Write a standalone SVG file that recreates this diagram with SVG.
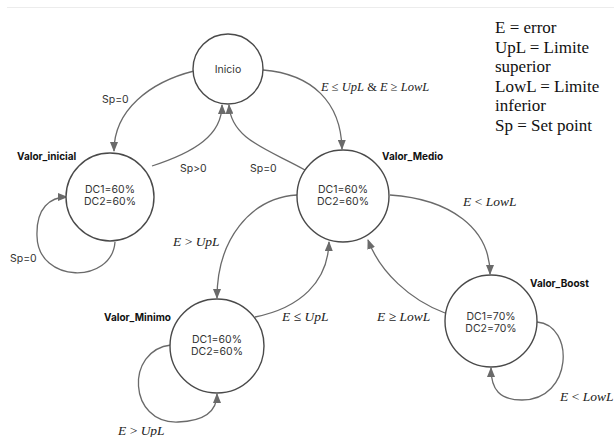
<svg xmlns="http://www.w3.org/2000/svg" width="614" height="437" viewBox="0 0 614 437">
  <style>
    .state { fill: #ffffff; stroke: #4a4a4a; stroke-width: 1.4; }
    .name { font-family: Inter, "Liberation Sans", sans-serif; font-size: 10px; font-weight: 700; fill: #111; }
    .body { font-family: Inter, "Liberation Sans", sans-serif; font-size: 10.5px; fill: #333; text-anchor: middle; }
    .tag { font-family: Inter, "Liberation Sans", sans-serif; font-size: 10.5px; fill: #333; }
    .math { font-family: "Liberation Serif", serif; font-size: 13.5px; font-style: italic; fill: #222; }
    .math.long { font-size: 12.5px; }
    .op { font-style: normal; }
    .legend { font-family: "Liberation Serif", serif; font-size: 17px; fill: #111; }
    .edge { fill: none; stroke: #6a6a6a; stroke-width: 1.3; marker-end: url(#head); }
  </style>
  <defs>
    <marker id="head" markerWidth="10" markerHeight="8" refX="9" refY="4" orient="auto" markerUnits="userSpaceOnUse">
      <path d="M0,0 L10,4 L0,8 Z" fill="#6a6a6a"/>
    </marker>
  </defs>

  <rect width="614" height="437" fill="#ffffff"/>
  <line x1="7" y1="7.5" x2="614" y2="7.5" stroke="#ececec" stroke-width="1"/>

  <!-- transitions -->
  <g id="connectors">
    <path class="edge" d="M194,71 C150,82 114,110 114,151"/>
    <path class="edge" d="M152,166 C195,152 222,135 222,105"/>
    <path class="edge" d="M305,170 C270,150 231,140 229,105"/>
    <path class="edge" d="M263,70 C312,74 341,102 342,149"/>
    <path class="edge" d="M390,195 C450,199 490,228 490,274"/>
    <path class="edge" d="M445,313 C410,300 380,272 368,240"/>
    <path class="edge" d="M297,195 C250,198 217,240 217,298"/>
    <path class="edge" d="M255,317 C300,308 328,282 329,242"/>
    <path class="edge" d="M171,345 C125,350 128,424 178,422 C206,421 217,410 217,394"/>
    <path class="edge" d="M537,322 C575,325 573,400 522,400 C500,400 491,390 491,368"/>
    <path class="edge" d="M115,242 C112,284 38,284 37,236 C36,208 50,197 67,197"/>
  </g>

  <!-- edge labels -->
  <g id="edge-labels">
    <text class="tag" x="102" y="103">Sp=0</text>
    <text class="tag" x="180" y="172">Sp&gt;0</text>
    <text class="tag" x="250" y="172">Sp=0</text>
    <text class="tag" x="10" y="262">Sp=0</text>
    <text class="math long" x="321" y="91">E<tspan class="op"> ≤ </tspan>UpL<tspan class="op"> &amp; </tspan>E<tspan class="op"> ≥ </tspan>LowL</text>
    <text class="math" x="463" y="206">E<tspan class="op"> &lt; </tspan>LowL</text>
    <text class="math" x="173" y="246">E<tspan class="op"> &gt; </tspan>UpL</text>
    <text class="math" x="282" y="321">E<tspan class="op"> ≤ </tspan>UpL</text>
    <text class="math" x="377" y="321">E<tspan class="op"> ≥ </tspan>LowL</text>
    <text class="math" x="118" y="435">E<tspan class="op"> &gt; </tspan>UpL</text>
    <text class="math" x="560" y="401">E<tspan class="op"> &lt; </tspan>LowL</text>
  </g>

  <!-- states -->
  <g id="inicio">
    <circle class="state" cx="228" cy="69" r="35"/>
    <text class="body" x="228" y="73">Inicio</text>
  </g>
  <g id="valor-inicial">
    <circle class="state" cx="110" cy="197" r="44"/>
    <text class="name" x="17" y="160">Valor_inicial</text>
    <text class="body" x="110" y="193">DC1=60%</text>
    <text class="body" x="110" y="205">DC2=60%</text>
  </g>
  <g id="valor-medio">
    <circle class="state" cx="343" cy="196" r="46"/>
    <text class="name" x="382" y="160">Valor_Medio</text>
    <text class="body" x="343" y="193">DC1=60%</text>
    <text class="body" x="343" y="205">DC2=60%</text>
  </g>
  <g id="valor-minimo">
    <circle class="state" cx="217" cy="346" r="47"/>
    <text class="name" x="104" y="321">Valor_Minimo</text>
    <text class="body" x="217" y="343">DC1=60%</text>
    <text class="body" x="217" y="355">DC2=60%</text>
  </g>
  <g id="valor-boost">
    <circle class="state" cx="491" cy="321" r="46"/>
    <text class="name" x="530" y="287">Valor_Boost</text>
    <text class="body" x="491" y="320">DC1=70%</text>
    <text class="body" x="491" y="332">DC2=70%</text>
  </g>

  <!-- legend -->
  <g id="legend">
    <text class="legend" x="495" y="33">E = error</text>
    <text class="legend" x="495" y="52.5">UpL = Limite</text>
    <text class="legend" x="495" y="72">superior</text>
    <text class="legend" x="495" y="91.5">LowL = Limite</text>
    <text class="legend" x="495" y="111">inferior</text>
    <text class="legend" x="495" y="131">Sp = Set point</text>
  </g>
</svg>
